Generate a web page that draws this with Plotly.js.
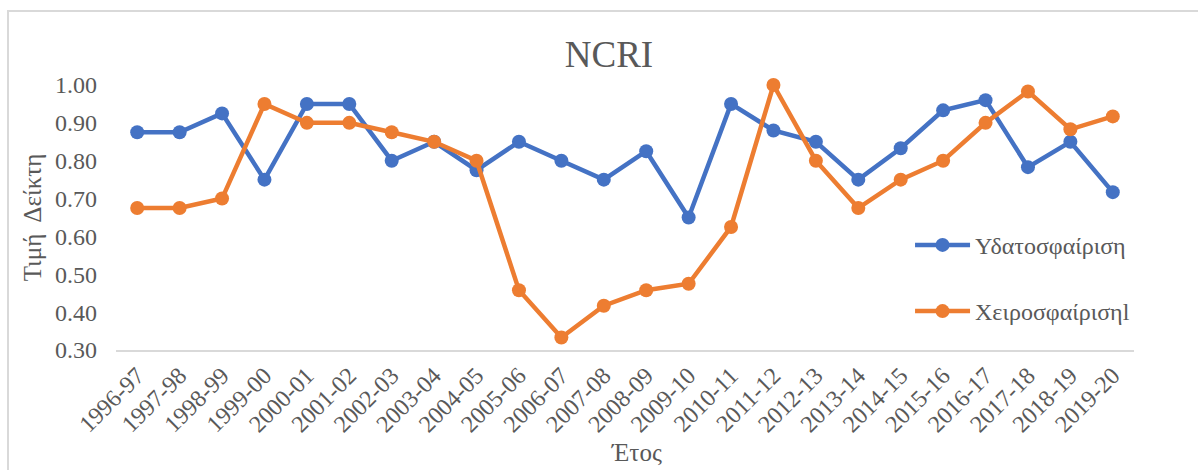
<!DOCTYPE html>
<html>
<head>
<meta charset="utf-8">
<script src="https://cdn.plot.ly/plotly-3.0.1.min.js"></script>
<style>
  html, body { margin: 0; padding: 0; background: #fff; overflow: hidden; }
  #wrap { position: relative; width: 1198px; height: 470px; }
  #chart { width: 1198px; height: 470px; }
  #frame { position: absolute; left: 7px; top: 10px; width: 1200px; height: 500px;
           border-left: 2px solid #d9d9d9; border-top: 2px solid #d9d9d9; pointer-events: none; }
</style>
</head>
<body>
<div id="wrap">
  <div id="chart"></div>
  <div id="frame"></div>
</div>
<script>
const seasons = ["1996-97","1997-98","1998-99","1999-00","2000-01","2001-02","2002-03","2003-04",
  "2004-05","2005-06","2006-07","2007-08","2008-09","2009-10","2010-11","2011-12","2012-13",
  "2013-14","2014-15","2015-16","2016-17","2017-18","2018-19","2019-20"];
const waterPolo = [0.875,0.875,0.925,0.75,0.95,0.95,0.80,0.85,0.775,0.85,0.80,0.75,0.825,0.65,
  0.95,0.88,0.85,0.75,0.833,0.933,0.96,0.783,0.85,0.717];
const handball = [0.675,0.675,0.70,0.95,0.90,0.90,0.875,0.85,0.80,0.458,0.333,0.417,0.458,0.475,
  0.625,1.00,0.80,0.675,0.75,0.80,0.90,0.983,0.883,0.917];
const yTicks = [0.30,0.40,0.50,0.60,0.70,0.80,0.90,1.00];

const textColor = "#595959";
const font = "Liberation Serif";

const traces = [
  { x: seasons, y: waterPolo, name: "Υδατοσφαίριση", type: "scatter", mode: "lines+markers",
    legendgroup: "a", cliponaxis: false,
    line: { color: "#4472C4", width: 4.5 }, marker: { color: "#4472C4", size: 14 } },
  { x: seasons, y: handball, name: "Χειροσφαίρισηl", type: "scatter", mode: "lines+markers",
    legendgroup: "b", cliponaxis: false,
    line: { color: "#ED7D31", width: 4.5 }, marker: { color: "#ED7D31", size: 14 } }
];

const layout = {
  width: 1198, height: 470,
  margin: { l: 116, r: 64, t: 85, b: 120 },
  paper_bgcolor: "#fff", plot_bgcolor: "#fff",
  font: { family: font, color: textColor, size: 24 },
  title: { text: "NCRI", font: { family: font, size: 37, color: textColor },
           x: 609 / 1198, xanchor: "center", y: 1 - 54/470, yanchor: "middle" },
  xaxis: {
    type: "category", range: [-0.5, 23.5], tickangle: -45,
    tickfont: { family: font, size: 24, color: textColor }, showgrid: false, zeroline: false,
    showline: true, linecolor: "#d9d9d9", linewidth: 2, ticks: "",
    title: { text: "" }
  },
  yaxis: {
    range: [0.30, 1.00], tickvals: yTicks, tickformat: ".2f",
    tickfont: { family: font, size: 24, color: textColor }, showgrid: false, zeroline: false,
    showline: false, ticks: "", ticklabelstandoff: 18,
    title: { text: "Τιμή  Δείκτη", font: { family: font, size: 25, color: textColor }, standoff: 6 }
  },
  showlegend: true,
  legend: {
    x: 0.78, y: 0.48, xanchor: "left", yanchor: "top",
    traceorder: "grouped", tracegroupgap: 32, itemwidth: 55,
    font: { family: font, size: 24, color: textColor }, bgcolor: "rgba(0,0,0,0)"
  },
  annotations: [
    { text: "Έτος", xref: "paper", yref: "paper", x: (636 - 116) / 1018, y: (350 - 437) / 265,
      xanchor: "center", yanchor: "top", showarrow: false,
      font: { size: 25, color: textColor, family: font } }
  ]
};

Plotly.newPlot("chart", traces, layout, { displayModeBar: false, staticPlot: true });
</script>
</body>
</html>
